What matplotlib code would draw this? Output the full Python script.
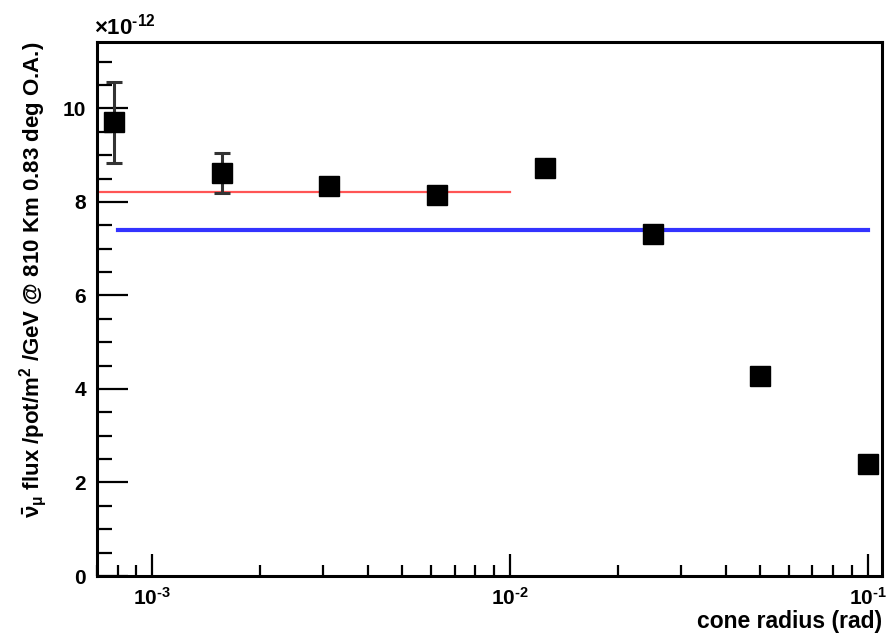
import matplotlib
matplotlib.use("Agg")
import matplotlib.pyplot as plt
import numpy as np
from matplotlib.ticker import LogLocator, MultipleLocator, NullFormatter, FuncFormatter

plt.rcParams['font.family'] = ['Liberation Sans', 'DejaVu Sans']
plt.rcParams['font.weight'] = 'bold'
plt.rcParams['mathtext.fontset'] = 'custom'
plt.rcParams['mathtext.rm'] = 'Liberation Sans:bold'
plt.rcParams['mathtext.it'] = 'Liberation Sans:bold'
plt.rcParams['mathtext.bf'] = 'Liberation Sans:bold'

# data (flux in units of 1e-12)
cone_radius = [0.78125e-3, 1.5625e-3, 3.125e-3, 6.25e-3, 12.5e-3, 25e-3, 50e-3, 100e-3]
flux = [9.70, 8.62, 8.34, 8.15, 8.72, 7.32, 4.28, 2.39]
flux_err = [0.87, 0.42, 0.05, 0.05, 0.05, 0.05, 0.05, 0.05]
red_level = 8.22
red_range = [7.0e-4, 1.0e-2]
blue_level = 7.39
blue_range = [8.0e-4, 0.1]
y_ticks = [0, 2, 4, 6, 8, 10]

fig = plt.figure(figsize=(8.89, 6.34), dpi=100)
ax = fig.add_axes([97/889, 1-576/634, (882-97)/889, (576-42)/634])

ax.plot(red_range, [red_level]*2, color='#ff5555', lw=1.6, zorder=2)
ax.plot(blue_range, [blue_level]*2, color='#3333ff', lw=3.0, zorder=2)
ax.errorbar(cone_radius, flux, yerr=flux_err, fmt='s', color='black', ms=15,
            ecolor='#333333', elinewidth=2.2, capsize=6, capthick=2.2, zorder=3)

ax.set_xscale('log')
ax.set_xlim(7.0e-4, 0.1095)
ax.set_ylim(0, 11.42)

ax.yaxis.set_major_locator(MultipleLocator(2))
ax.yaxis.set_minor_locator(MultipleLocator(0.5))
ax.set_yticks(y_ticks)
ax.set_yticklabels([str(v) for v in y_ticks])
ax.xaxis.set_major_locator(LogLocator(base=10, numticks=10))
ax.xaxis.set_minor_locator(LogLocator(base=10, subs=np.arange(2, 10), numticks=20))
ax.xaxis.set_minor_formatter(NullFormatter())
ax.xaxis.set_major_formatter(FuncFormatter(lambda v, p: r'10$^{\text{-%d}}$' % round(-np.log10(v))))

ax.tick_params(which='both', direction='in', top=False, right=False, labelsize=15, width=1.6)
ax.tick_params(which='major', axis='y', length=22, pad=8)
ax.tick_params(which='minor', axis='y', length=11)
ax.tick_params(which='major', axis='x', length=16, pad=8)
ax.tick_params(which='minor', axis='x', length=8)
for s in ax.spines.values():
    s.set_linewidth(2.2)

ax.text(-0.004, 1.004, r'$\times$10$^{\text{-12}}$', transform=ax.transAxes, fontsize=16,
        ha='left', va='bottom')
ax.set_xlabel('cone radius (rad)', fontsize=16.5, fontweight='bold', loc='right', labelpad=1)
ax.set_ylabel(r'$\bar{\nu}_{\mu}$ flux /pot/m$^{2}$ /GeV @ 810 Km 0.83 deg O.A.)',
              fontsize=16, fontweight='bold', loc='top', labelpad=10)

fig.savefig('out.png', dpi=100)
